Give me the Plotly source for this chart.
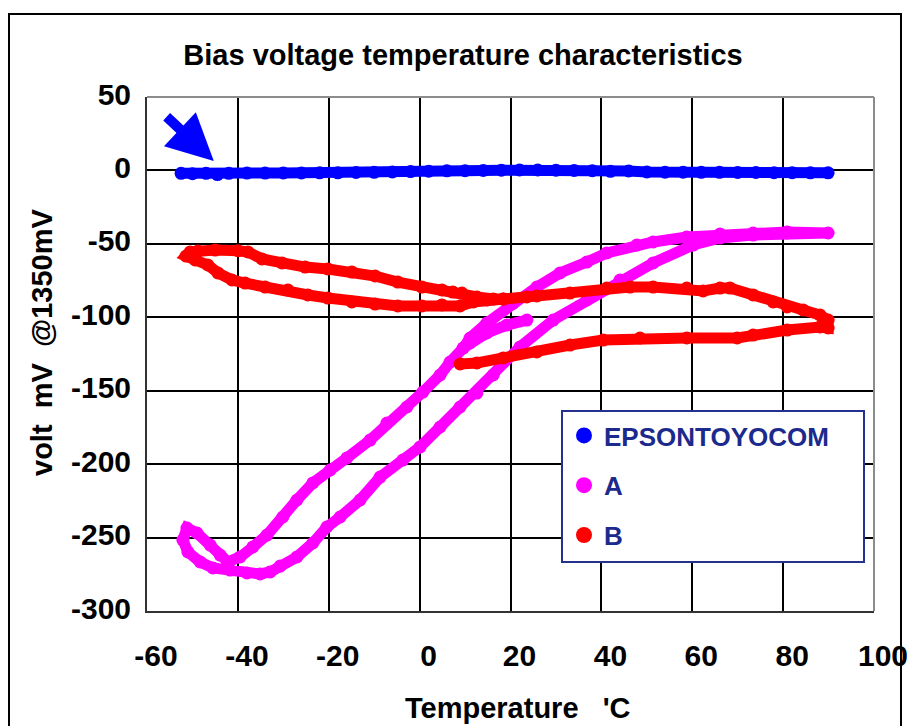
import plotly.graph_objects as go

# ---------------- data ----------------
epson_x = [-52.5, -50, -47, -44.5, -42, -38, -34, -30, -26, -22, -18, -14, -10, -6, -2,
           2, 6, 10, 14, 18, 22, 26, 30, 34, 38, 42, 46, 50, 54, 58, 62, 66, 70, 74, 78,
           82, 86, 89.9]
epson_y = [-2.0, -2.2, -2.0, -2.8, -2.0, -1.8, -1.8, -1.7, -1.7, -1.6, -1.6, -1.4, -1.3,
           -1.0, -0.8, -0.5, -0.3, -0.2, 0.0, 0.2, 0.3, 0.3, 0.2, 0.0, -0.2, -0.6, -0.4,
           -1.0, -1.2, -1.2, -1.3, -1.3, -1.4, -1.4, -1.5, -1.5, -1.6, -1.6]

a_x = [23.6, 19.2, 14.8, 11.1, 9.6,
       6.7, 4.5, 0.7, -2.8, -7.2, -10.9, -16.0, -19.7, -23.5, -27.0, -30.1, -33.6, -36.7,
       -39.5, -42.2,
       -43.9, -46.1, -49.0, -51.2, -52.1, -51.0, -48.3, -45.5, -41.7, -38.0, -35.1, -32.9,
       -30.7, -27.0, -23.5, -20.4, -17.5, -13.1,
       -8.7, -3.7, 0.1, 4.5, 8.9, 12.6, 16.2, 22.1, 29.4, 36.8, 44.1, 51.4, 60.2,
       66.1, 73.4, 80.9, 89.9,
       80.9, 73.4, 66.1, 58.8, 51.4, 47.8, 41.2, 36.8, 30.9, 25.8, 20.6, 14.8, 11.1, 9.6]
a_y = [-101.9, -105.3, -110.7, -117.5, -120.9,
       -130.5, -139.3, -150.9, -161.1, -172.0, -183.6, -195.8, -204.0, -212.8, -224.4,
       -236.0, -248.3, -256.4, -263.2, -266.6,
       -261.9, -255.1, -246.9, -243.5, -251.7, -259.8, -266.6, -270.7, -272.1, -274.1,
       -274.8, -273.4, -269.4, -263.2, -253.7, -242.8, -236.0, -224.4,
       -208.8, -197.2, -188.3, -174.7, -161.1, -151.6, -139.3, -120.2, -101.9, -88.2,
       -74.6, -63.0, -50.8,
       -46.0, -44.0, -42.6, -42.6,
       -41.9, -42.6, -43.3, -45.3, -48.7, -50.8, -56.2, -62.4, -69.8, -79.4, -90.3,
       -103.9, -114.1, -120.9]

b_x = [23.6, 18.4, 14.8, 11.8, 8.9, 4.9, 0.5, -4.8, -9.8, -14.9, -20.2, -24.6, -29.0,
       -34.0, -38.4, -41.3, -44.4, -46.6, -49.4, -51.4,
       -50.5, -48.8, -45.0, -40.0, -37.8, -34.7, -30.3, -25.2, -20.2, -14.9, -9.8, -4.8,
       0.5, 4.9, 7.3, 9.3, 12.6, 16.2, 18.4, 25.8, 33.1, 41.2, 46.3, 51.4, 58.8, 62.4,
       66.1, 68.3, 73.4, 77.8, 80.9, 84.4, 88.1, 89.9, 89.9,
       88.1, 80.9, 73.4, 69.9, 58.8, 48.5, 40.4, 33.1, 25.8, 18.4, 12.6, 8.9]
b_y = [-86.2, -87.6, -88.2, -89.6, -92.3, -91.6, -92.3, -92.3, -91.0, -89.6, -86.9,
       -84.8, -81.4, -79.4, -76.7, -74.6, -69.8, -64.4, -61.0, -58.3,
       -55.5, -54.9, -54.2, -54.7, -55.5, -60.3, -63.0, -65.8, -67.1, -69.2, -71.9, -76.0,
       -79.4, -81.4, -82.8, -83.5, -86.2, -87.5, -87.5, -85.5, -83.5, -80.1, -79.4, -79.4,
       -80.1, -82.1, -80.1, -80.1, -84.8, -89.6, -93.0, -95.0, -98.4, -101.9, -107.3,
       -106.6, -108.7, -112.1, -114.1, -114.1, -114.1, -115.5, -118.9, -123.6, -127.7,
       -131.1, -131.8]

series_names = ["EPSONTOYOCOM", "A", "B"]
series_colors = ["#0000FF", "#FF00FF", "#FF0000"]

x_ticks = [-60, -40, -20, 0, 20, 40, 60, 80, 100]
y_ticks = [50, 0, -50, -100, -150, -200, -250, -300]

title_text = "Bias voltage temperature characteristics"
x_title = "Temperature\u00a0\u00a0\u00a0'C"
y_title = "volt\u00a0\u00a0mV\u00a0\u00a0@1350mV"

# ---------------- figure ----------------
FONT = "Liberation Sans, Arial, sans-serif"
W, H = 908, 726
ML, MR, MT, MB = 147, 34, 97, 115
PW, PH = W - ML - MR, H - MT - MB


def px_x(p):
    return (p - ML) / PW


def px_y(p):
    return (H - MB - p) / PH


fig = go.Figure()
data = [(epson_x, epson_y), (a_x, a_y), (b_x, b_y)]
for (xs, ys), name, col in zip(data, series_names, series_colors):
    fig.add_trace(go.Scatter(
        x=xs, y=ys, mode="lines+markers", name=name, showlegend=False,
        line=dict(color=col, width=11), marker=dict(color=col, size=13),
        hoverinfo="skip"))
# legend entries (dot only)
for name, col in zip(series_names, series_colors):
    fig.add_trace(go.Scatter(
        x=[None], y=[None], mode="markers", name=name, legendgroup=name,
        marker=dict(color=col, size=16), showlegend=True))

axis_common = dict(showgrid=True, gridcolor="#000000", gridwidth=1.5, zeroline=False,
                   showline=True, linecolor="#333333", linewidth=2, ticks="",
                   automargin=False, ticklabeloverflow="allow",
                   tickfont=dict(family=FONT, size=30, color="#000000", weight="bold"))

fig.update_xaxes(range=[-60, 100], tickvals=x_ticks, ticktext=[str(v) for v in x_ticks],
                 ticklabelshift=9, ticklabelstandoff=17, **axis_common)
fig.update_yaxes(range=[-300, 50], tickvals=y_ticks, ticktext=[str(v) for v in y_ticks],
                 ticklabelstandoff=8, ticklabelshift=-3, **axis_common)

shapes = [
    # outer frame
    dict(type="rect", xref="paper", yref="paper", x0=px_x(9), x1=px_x(901),
         y0=px_y(760), y1=px_y(14), line=dict(color="#000000", width=2), layer="below"),
    # top / right border of the plot area (gray)
    dict(type="line", xref="paper", yref="paper", x0=0, x1=1, y0=1, y1=1,
         line=dict(color="#8c8c8c", width=2), layer="above"),
    dict(type="line", xref="paper", yref="paper", x0=1, x1=1, y0=0, y1=1,
         line=dict(color="#8c8c8c", width=2), layer="above"),
    # legend box
    dict(type="rect", xref="paper", yref="paper", x0=px_x(562), x1=px_x(864),
         y0=px_y(562), y1=px_y(411), fillcolor="#FFFFFF",
         line=dict(color="#233190", width=2), layer="above"),
]

annotations = [
    dict(xref="x", yref="y", axref="x", ayref="y", x=-45.3, y=6.4, ax=-56.0, ay=37.5,
         text="", showarrow=True, arrowhead=2, arrowwidth=10, arrowsize=0.93,
         arrowcolor="#0000FF"),
    dict(xref="paper", yref="paper", x=px_x(518), y=px_y(708), text=x_title,
         showarrow=False, xanchor="center", yanchor="middle",
         font=dict(family=FONT, size=29, color="#000000", weight="bold")),
    dict(xref="paper", yref="paper", x=px_x(42), y=px_y(342), text=y_title,
         showarrow=False, xanchor="center", yanchor="middle", textangle=-90,
         font=dict(family=FONT, size=29, color="#000000", weight="bold")),
]

fig.update_layout(
    width=W, height=H,
    margin=dict(l=ML, r=MR, t=MT, b=MB, pad=0, autoexpand=False),
    paper_bgcolor="#FFFFFF", plot_bgcolor="#FFFFFF",
    title=dict(text=title_text, x=463 / W, xanchor="center", y=1 - 55 / H,
               yanchor="middle", automargin=False,
               font=dict(family=FONT, size=29, color="#000000", weight="bold")),
    showlegend=True,
    legend=dict(x=px_x(564), y=px_y(412), xanchor="left", yanchor="top",
                bgcolor="rgba(0,0,0,0)", borderwidth=0, tracegroupgap=13,
                font=dict(family=FONT, size=26, color="#1B2A8C", weight="bold")),
    shapes=shapes, annotations=annotations,
)

fig.write_html("out.html")
